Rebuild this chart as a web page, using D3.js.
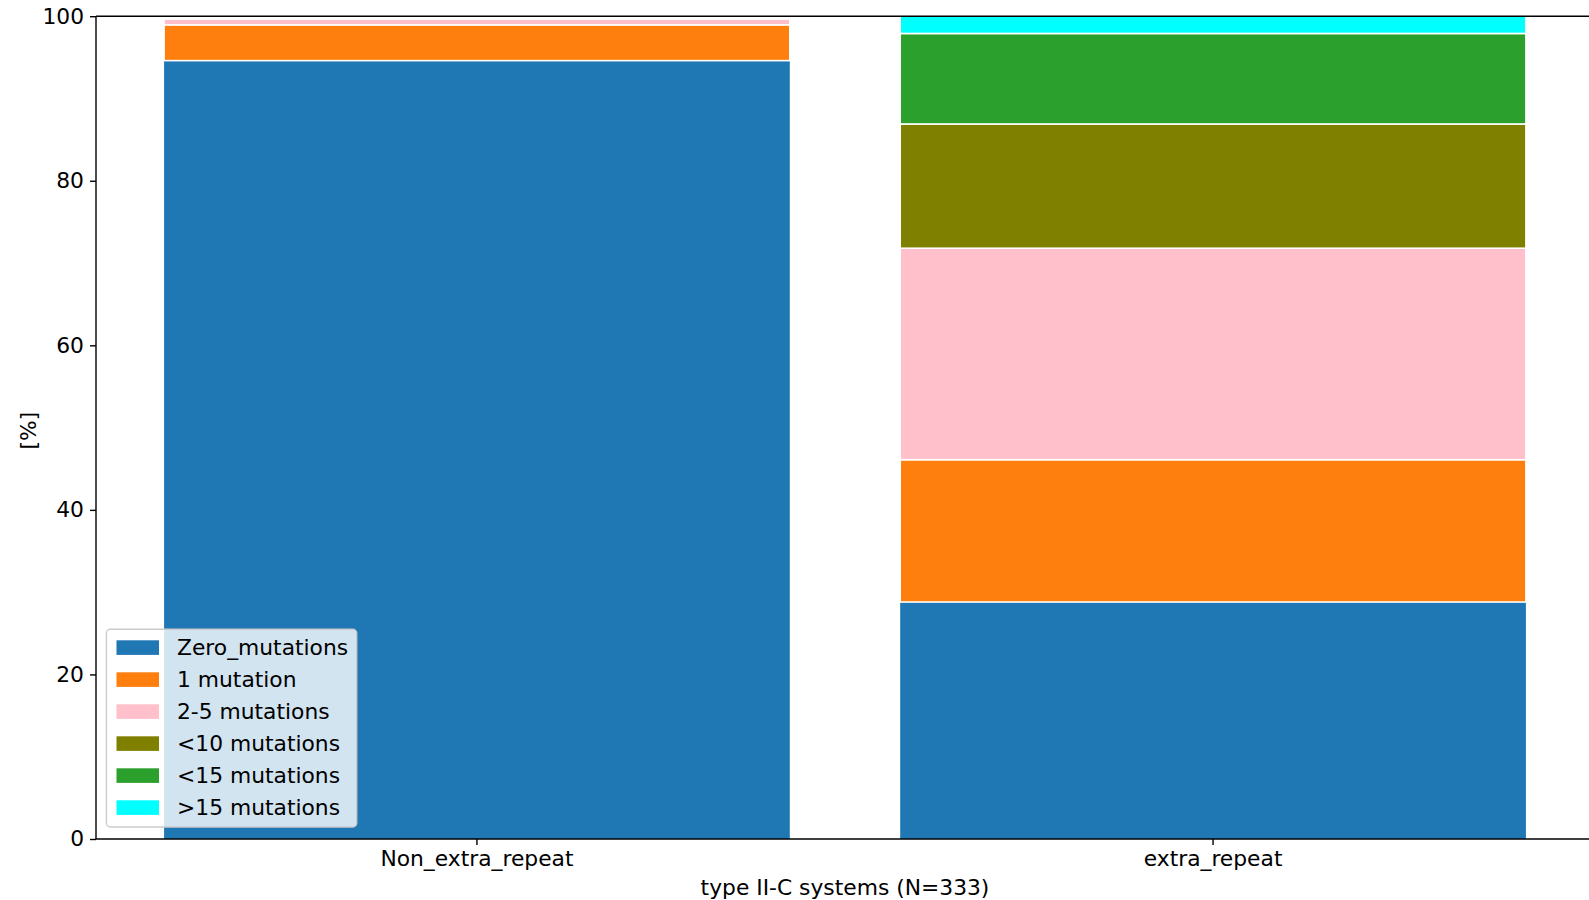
<!DOCTYPE html>
<html>
<head>
<meta charset="utf-8">
<script src="https://cdn.jsdelivr.net/npm/d3@7"></script>
<style>
  html, body { margin: 0; padding: 0; background: #fff; overflow: hidden; }
  svg { display: block; font-family: "DejaVu Sans", sans-serif; }
</style>
</head>
<body>
<svg id="chart" width="1589" height="900"></svg>
<script>
// Share of systems (%) per mutation class, for each repeat group
const categories = ["Non_extra_repeat", "extra_repeat"];
const zeroMutations = [94.6, 28.8];
const oneMutation   = [4.35, 17.3];
const twoToFive     = [0.7, 25.7];
const under10       = [0, 15.1];
const under15       = [0, 11.0];
const over15        = [0, 2.1];

const seriesNames  = ["Zero_mutations", "1 mutation", "2-5 mutations", "<10 mutations", "<15 mutations", ">15 mutations"];
const seriesValues = [zeroMutations, oneMutation, twoToFive, under10, under15, over15];
const seriesColors = ["#1f77b4", "#ff7f0e", "#ffc0cb", "#808000", "#2ca02c", "#00ffff"];
const yTicks = [0, 20, 40, 60, 80, 100];

const xLabel = "type II-C systems (N=333)";
const yLabel = "[%]";

const svg = d3.select("#chart");
const plot = { left: 96, right: 1594, top: 16.2, bottom: 839 };
const fontSize = 21.8;

const rows = categories.map((c, i) => {
  const r = { category: c };
  seriesNames.forEach((s, j) => { r[s] = seriesValues[j][i]; });
  return r;
});

const x = d3.scaleBand()
  .domain(categories)
  .range([plot.left, plot.right])
  .paddingInner(0.15)
  .paddingOuter(0.0925);

const y = d3.scaleLinear().domain([0, 100]).range([plot.bottom, plot.top]);

const color = d3.scaleOrdinal().domain(seriesNames).range(seriesColors);

const stacked = d3.stack().keys(seriesNames)(rows);

// Stacked bars
const layers = svg.append("g").selectAll("g")
  .data(stacked)
  .join("g")
  .attr("fill", d => color(d.key));

layers.selectAll("rect")
  .data(d => d.map(p => ({ p, key: d.key })))
  .join("rect")
  .filter(d => d.p[1] - d.p[0] > 0)
  .attr("x", d => x(d.p.data.category))
  .attr("width", x.bandwidth())
  .attr("y", d => y(d.p[1]))
  .attr("height", d => y(d.p[0]) - y(d.p[1]))
  .attr("stroke", d => d.key === seriesNames[0] ? "none" : "#ffffff")
  .attr("stroke-width", 1.6);

// Axes
const yAxis = d3.axisLeft(y).tickValues(yTicks).tickSize(6).tickPadding(6);
const gy = svg.append("g").attr("transform", `translate(${plot.left},0)`).call(yAxis);
gy.select(".domain").remove();
gy.selectAll(".tick line").attr("stroke", "#000").attr("stroke-width", 1.4);
gy.selectAll(".tick text").attr("font-size", fontSize).attr("fill", "#000")
  .attr("font-family", "DejaVu Sans, sans-serif");

const xAxis = d3.axisBottom(x).tickSize(6).tickPadding(6);
const gx = svg.append("g").attr("transform", `translate(0,${plot.bottom})`).call(xAxis);
gx.select(".domain").remove();
gx.selectAll(".tick line").attr("stroke", "#000").attr("stroke-width", 1.4);
gx.selectAll(".tick text").attr("font-size", fontSize).attr("fill", "#000")
  .attr("font-family", "DejaVu Sans, sans-serif");

// Spines (left, top, bottom; the right one falls outside the canvas)
const spines = svg.append("g").attr("stroke", "#000").attr("stroke-width", 1.4).attr("fill", "none");
spines.append("line").attr("x1", plot.left).attr("x2", plot.left).attr("y1", plot.top).attr("y2", plot.bottom);
spines.append("line").attr("x1", plot.left).attr("x2", plot.right).attr("y1", plot.top).attr("y2", plot.top);
spines.append("line").attr("x1", plot.left).attr("x2", plot.right).attr("y1", plot.bottom).attr("y2", plot.bottom);
spines.append("line").attr("x1", plot.right).attr("x2", plot.right).attr("y1", plot.top).attr("y2", plot.bottom);

// Axis titles
svg.append("text")
  .attr("x", (plot.left + plot.right) / 2)
  .attr("y", 887)
  .attr("dy", "0.35em")
  .attr("text-anchor", "middle")
  .attr("font-size", fontSize)
  .attr("fill", "#000")
  .text(xLabel);

svg.append("text")
  .attr("transform", `translate(28,${(plot.top + plot.bottom) / 2 + 3}) rotate(-90)`)
  .attr("dy", "0.35em")
  .attr("text-anchor", "middle")
  .attr("font-size", fontSize)
  .attr("fill", "#000")
  .text(yLabel);

// Legend
const legend = svg.append("g");
legend.append("rect")
  .attr("x", 106.4).attr("y", 629.3)
  .attr("width", 250.3).attr("height", 197.7)
  .attr("rx", 4).attr("ry", 4)
  .attr("fill", "#ffffff").attr("fill-opacity", 0.8)
  .attr("stroke", "#cccccc").attr("stroke-width", 1.4);

const items = legend.selectAll("g.item")
  .data(seriesNames)
  .join("g")
  .attr("class", "item")
  .attr("transform", (d, i) => `translate(0,${647.6 + i * 32.0})`);

items.append("rect")
  .attr("x", 116.5).attr("y", -7.3)
  .attr("width", 42.5).attr("height", 14.6)
  .attr("fill", d => color(d));

items.append("text")
  .attr("x", 177)
  .attr("dy", "0.35em")
  .attr("font-size", fontSize)
  .attr("fill", "#000")
  .text(d => d);
</script>
</body>
</html>
